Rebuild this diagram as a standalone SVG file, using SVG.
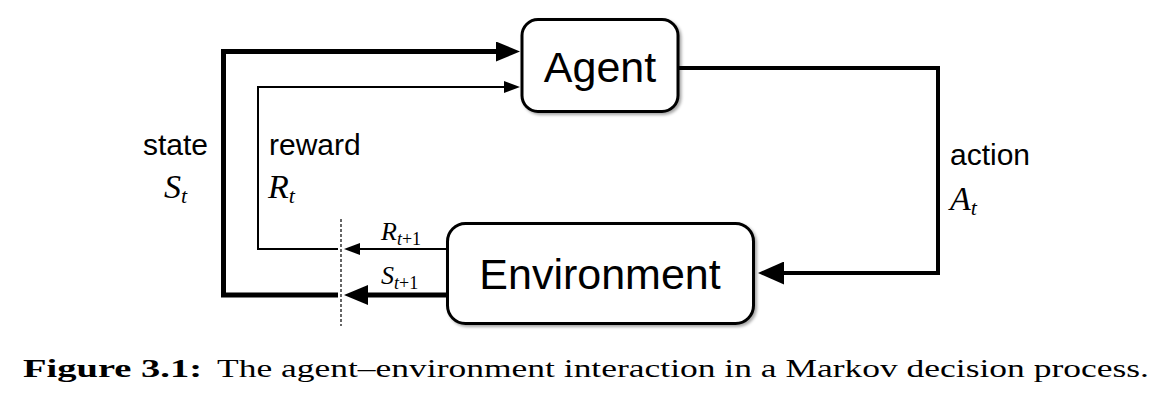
<svg xmlns="http://www.w3.org/2000/svg" width="1174" height="402" viewBox="0 0 1174 402">
  <style>
    .box { fill: #fff; stroke: #000; stroke-width: 3; filter: url(#shadow); }
    .lbl { font-family: "Liberation Sans", Arial, sans-serif; font-size: 43px; fill: #000; text-anchor: middle; }
    .word { font-family: "Liberation Sans", Arial, sans-serif; font-size: 30px; fill: #000; }
    .math { font-family: "Liberation Serif", "Times New Roman", Times, "Nimbus Roman", FreeSerif, serif; font-style: italic; fill: #000; }
    .up { font-style: normal; }
    .thick { fill: none; stroke: #000; stroke-width: 5; stroke-linejoin: miter; }
    .thin { fill: none; stroke: #000; stroke-width: 2; stroke-linejoin: miter; }
    .act { fill: none; stroke: #000; stroke-width: 4; stroke-linejoin: miter; }
    .cap { font-family: "Liberation Serif", "Times New Roman", Times, "Nimbus Roman", FreeSerif, serif; font-size: 25px; fill: #000; }
  </style>
  <defs>
    <filter id="shadow" x="-10%" y="-10%" width="125%" height="130%">
      <feDropShadow dx="2" dy="2" stdDeviation="1.5" flood-color="#000" flood-opacity="0.35"/>
    </filter>
    <marker id="arrowBig" markerUnits="userSpaceOnUse" markerWidth="24" markerHeight="20" viewBox="0 0 24 20" refX="0" refY="10" orient="auto">
      <path d="M0,0 L24,10 L0,20 z" fill="#000"/>
    </marker>
    <marker id="arrowSmall" markerUnits="userSpaceOnUse" markerWidth="16" markerHeight="12" viewBox="0 0 16 12" refX="0" refY="6" orient="auto">
      <path d="M0,0 L16,6 L0,12 z" fill="#000"/>
    </marker>
    <marker id="arrowAct" markerUnits="userSpaceOnUse" markerWidth="26" markerHeight="23" viewBox="0 0 26 23" refX="0" refY="11.5" orient="auto">
      <path d="M0,0 L26,11.5 L0,23 z" fill="#000"/>
    </marker>
  </defs>

  <g id="connectors">
    <path class="thick" d="M338 295 H223.5 V51.5 H496" marker-end="url(#arrowBig)"/>
    <path class="thin" d="M338 249 H258 V87 H504" marker-end="url(#arrowSmall)"/>
    <path class="act" d="M678 68 H938 V273 H784" marker-end="url(#arrowAct)"/>
    <path class="thick" d="M446 295 H368" marker-end="url(#arrowBig)"/>
    <path class="thin" d="M446 249 H360" marker-end="url(#arrowSmall)"/>
    <line x1="341" y1="219" x2="341" y2="326" stroke="#000" stroke-width="1.2" stroke-dasharray="3,2"/>
  </g>

  <g id="agent">
    <rect class="box" x="522" y="19.5" width="156" height="92" rx="16"/>
    <text class="lbl" x="600" y="82">Agent</text>
  </g>

  <g id="environment">
    <rect class="box" x="447.5" y="223.5" width="306" height="100" rx="18"/>
    <text class="lbl" x="600" y="289">Environment</text>
  </g>

  <g id="labels">
    <text class="word" x="143" y="155">state</text>
    <text class="math" x="164" y="198" font-size="34">S<tspan font-size="22" dy="5">t</tspan></text>
    <text class="word" x="269" y="155">reward</text>
    <text class="math" x="268" y="198" font-size="34">R<tspan font-size="22" dy="5">t</tspan></text>
    <text class="word" x="950" y="165">action</text>
    <text class="math" x="950" y="210" font-size="34">A<tspan font-size="22" dy="5">t</tspan></text>
    <text class="math" x="381" y="240" font-size="26">R<tspan font-size="18" dy="5">t</tspan><tspan font-size="18" class="up">+1</tspan></text>
    <text class="math" x="381" y="284" font-size="26">S<tspan font-size="18" dy="5">t</tspan><tspan font-size="18" class="up">+1</tspan></text>
  </g>

  <g id="caption">
    <text class="cap" x="23" y="377" font-weight="bold" textLength="179" lengthAdjust="spacingAndGlyphs">Figure 3.1:</text>
    <text class="cap" x="217" y="377" textLength="932" lengthAdjust="spacingAndGlyphs">The agent–environment interaction in a Markov decision process.</text>
  </g>
</svg>
